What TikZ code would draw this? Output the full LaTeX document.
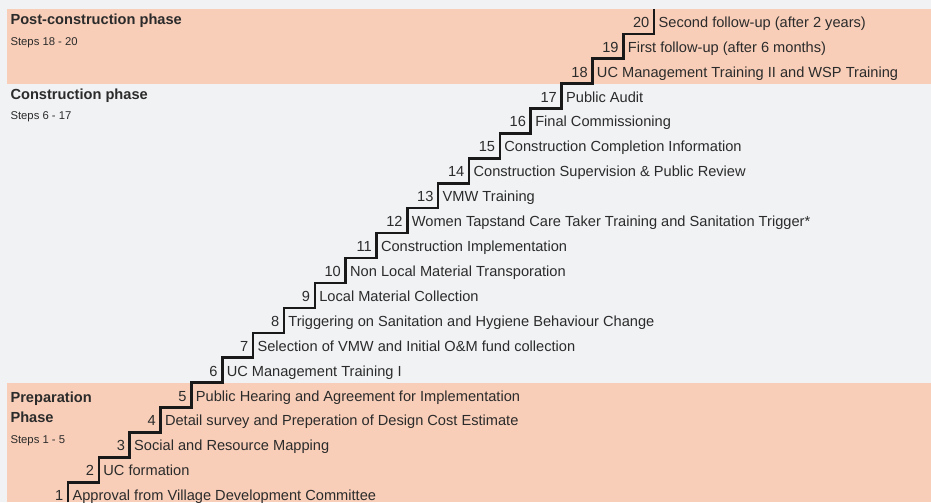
\documentclass[tikz,border=0pt]{standalone}
\usepackage{fontspec}
\setmainfont{Liberation Sans}
\usepackage{tikz}

\definecolor{bgray}{HTML}{F1F2F4}
\definecolor{peach}{HTML}{F8CEB8}
\definecolor{ink}{HTML}{2B2B2B}

\begin{document}
\begin{tikzpicture}[x=0.816cm,y=0.659cm,thick]
\tikzstyle{num}=[anchor=base east,inner xsep=3.2pt,inner ysep=0pt,text=ink,font=\fontsize{11}{13}\selectfont]
\tikzstyle{lbl}=[anchor=base west,inner xsep=3pt,inner ysep=0pt,text=ink,font=\fontsize{11}{13}\selectfont]
\tikzstyle{phase}=[anchor=west,inner sep=0pt,text=ink,align=left,font=\bfseries\fontsize{11}{15}\selectfont]
\tikzstyle{sub}=[anchor=west,inner sep=0pt,text=ink,font=\fontsize{8.5}{10}\selectfont]

\useasboundingbox (-2.204,0.197) rectangle (27.974,20.357);
\fill[bgray] (-2.204,0.197) rectangle (27.974,20.357);

% phase bands
\fill[peach] (-1.977,0.197) rectangle (27.974,5);
\fill[peach] (-1.977,17) rectangle (27.974,20);

\node[phase] (post) at (-1.88,19.51) {Post-construction phase};
\node[sub] (postS) at (-1.88,18.63) {Steps 18 - 20};

\node[phase] (cons) at (-1.88,16.5) {Construction phase};
\node[sub] (consS) at (-1.88,15.66) {Steps 6 - 17};

\node[phase] (prep) at (-1.88,4.01) {Preparation\\Phase};
\node[sub] (prepS) at (-1.88,2.66) {Steps 1 - 5};

% step corners
\coordinate (c1) at (0,0.197);
\coordinate (c2) at (1,1);
\coordinate (c3) at (2,2);
\coordinate (c4) at (3,3);
\coordinate (c5) at (4,4);
\coordinate (c6) at (5,5);
\coordinate (c7) at (6,6);
\coordinate (c8) at (7,7);
\coordinate (c9) at (8,8);
\coordinate (c10) at (9,9);
\coordinate (c11) at (10,10);
\coordinate (c12) at (11,11);
\coordinate (c13) at (12,12);
\coordinate (c14) at (13,13);
\coordinate (c15) at (14,14);
\coordinate (c16) at (15,15);
\coordinate (c17) at (16,16);
\coordinate (c18) at (17,17);
\coordinate (c19) at (18,18);
\coordinate (c20) at (19,19);
\coordinate (top) at (19,20);

\draw[line width=1.9pt,black!90,line join=miter] (c1) |- (c2) |- (c3) |- (c4) |- (c5)
  |- (c6) |- (c7) |- (c8) |- (c9) |- (c10) |- (c11) |- (c12) |- (c13)
  |- (c14) |- (c15) |- (c16) |- (c17) |- (c18) |- (c19) |- (c20) -- (top);

% steps
\node[num] (n1) at (0,0.26) {1};
\node[lbl] (l1) at (0,0.26) {Approval from Village Development Committee};
\node[num] (n2) at (1,1.26) {2};
\node[lbl] (l2) at (1,1.26) {UC formation};
\node[num] (n3) at (2,2.26) {3};
\node[lbl] (l3) at (2,2.26) {Social and Resource Mapping};
\node[num] (n4) at (3,3.26) {4};
\node[lbl] (l4) at (3,3.26) {Detail survey and Preperation of Design Cost Estimate};
\node[num] (n5) at (4,4.26) {5};
\node[lbl] (l5) at (4,4.26) {Public Hearing and Agreement for Implementation};
\node[num] (n6) at (5,5.26) {6};
\node[lbl] (l6) at (5,5.26) {UC Management Training I};
\node[num] (n7) at (6,6.26) {7};
\node[lbl] (l7) at (6,6.26) {Selection of VMW and Initial O\&M fund collection};
\node[num] (n8) at (7,7.26) {8};
\node[lbl] (l8) at (7,7.26) {Triggering on Sanitation and Hygiene Behaviour Change};
\node[num] (n9) at (8,8.26) {9};
\node[lbl] (l9) at (8,8.26) {Local Material Collection};
\node[num] (n10) at (9,9.26) {10};
\node[lbl] (l10) at (9,9.26) {Non Local Material Transporation};
\node[num] (n11) at (10,10.26) {11};
\node[lbl] (l11) at (10,10.26) {Construction Implementation};
\node[num] (n12) at (11,11.26) {12};
\node[lbl] (l12) at (11,11.26) {Women Tapstand Care Taker Training and Sanitation Trigger*};
\node[num] (n13) at (12,12.26) {13};
\node[lbl] (l13) at (12,12.26) {VMW Training};
\node[num] (n14) at (13,13.26) {14};
\node[lbl] (l14) at (13,13.26) {Construction Supervision \& Public Review};
\node[num] (n15) at (14,14.26) {15};
\node[lbl] (l15) at (14,14.26) {Construction Completion Information};
\node[num] (n16) at (15,15.26) {16};
\node[lbl] (l16) at (15,15.26) {Final Commissioning};
\node[num] (n17) at (16,16.26) {17};
\node[lbl] (l17) at (16,16.26) {Public Audit};
\node[num] (n18) at (17,17.26) {18};
\node[lbl] (l18) at (17,17.26) {UC Management Training II and WSP Training};
\node[num] (n19) at (18,18.26) {19};
\node[lbl] (l19) at (18,18.26) {First follow-up (after 6 months)};
\node[num] (n20) at (19,19.26) {20};
\node[lbl] (l20) at (19,19.26) {Second follow-up (after 2 years)};

\end{tikzpicture}
\end{document}
